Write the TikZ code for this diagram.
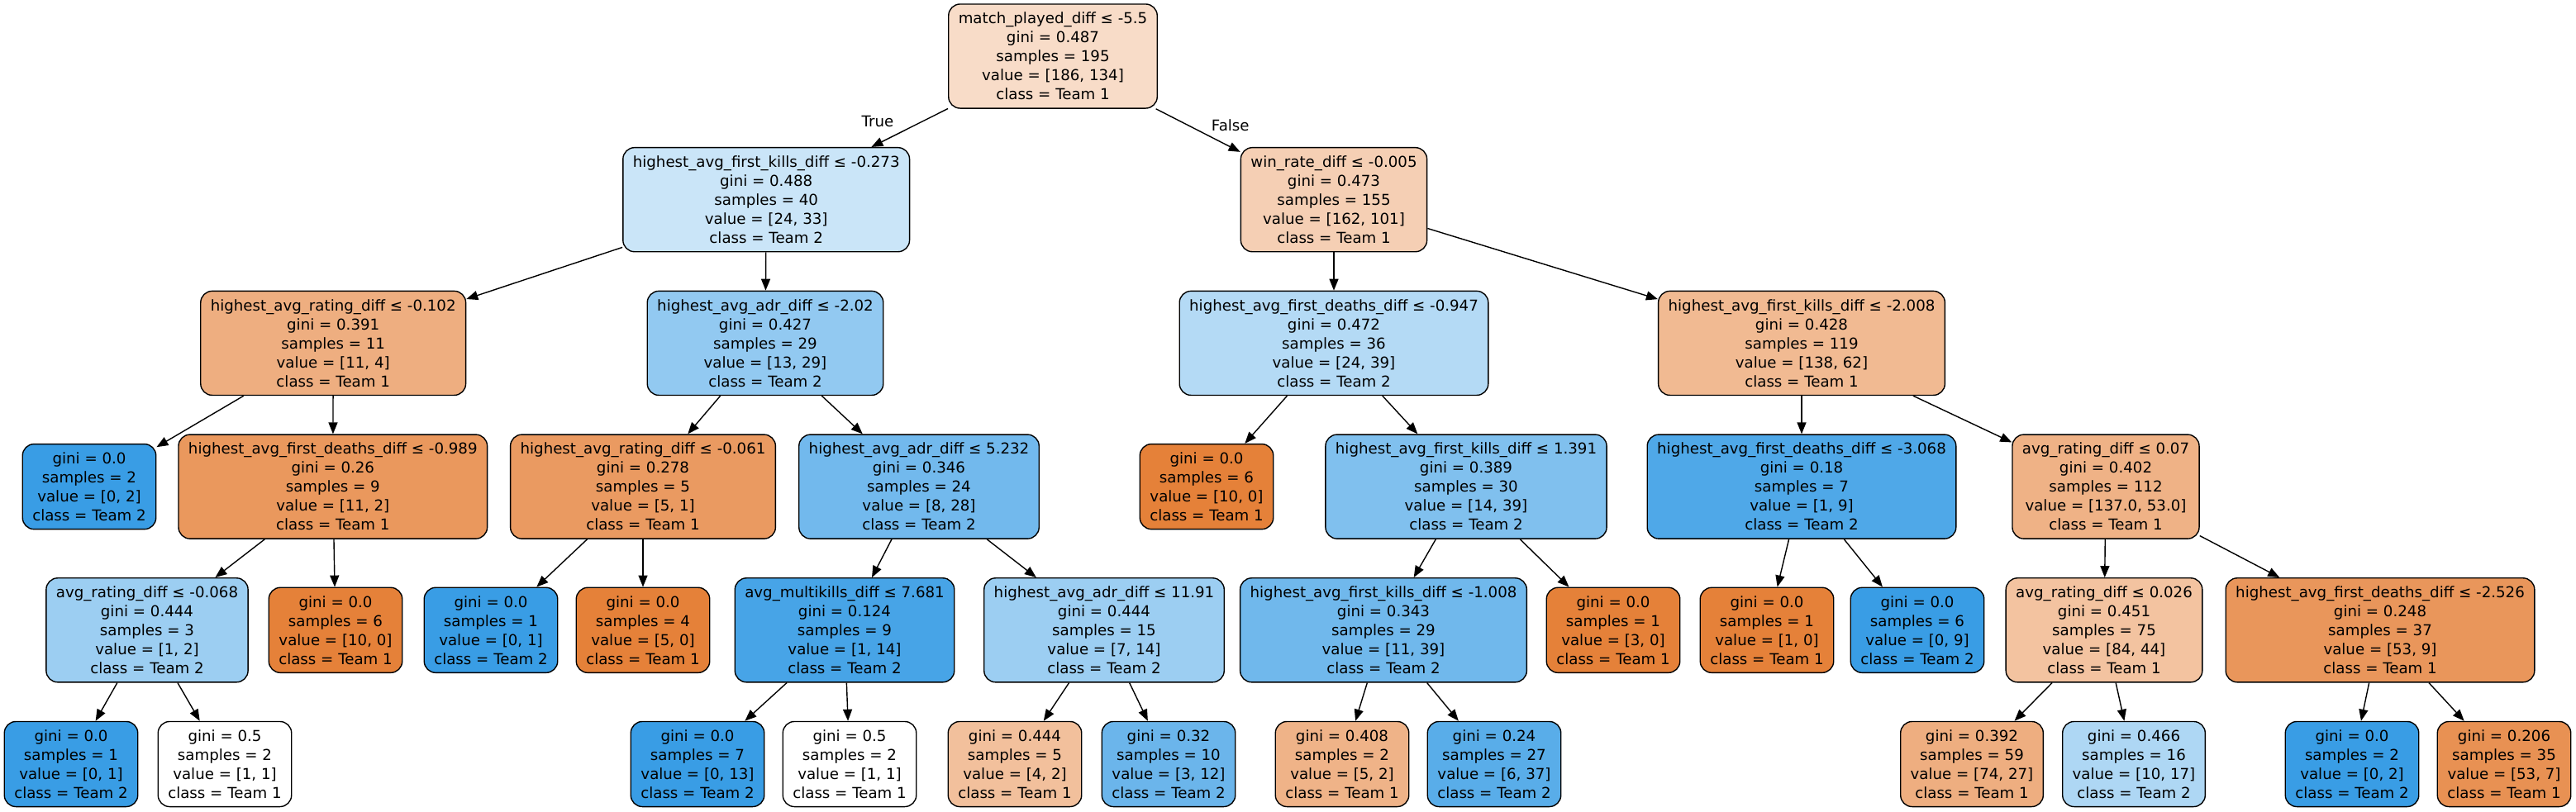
\documentclass[tikz,border=0pt]{standalone}
\usepackage{fontspec}
\setmainfont{DejaVu Sans}
\usepackage{xcolor}
\usetikzlibrary{arrows.meta}

\definecolor{naranja}{RGB}{229,129,57}
\definecolor{azul}{RGB}{57,157,229}

\begin{document}
\begin{tikzpicture}[x=1pt, y=1pt,
    caja/.style={draw=black, line width=0.7pt, rounded corners=7pt, align=center,
        inner xsep=6pt, inner ysep=5pt, font=\fontsize{9.1}{11.5}\selectfont},
    flecha/.style={-{Triangle[length=7pt,width=5.5pt]}, line width=0.7pt},
    etiqueta/.style={font=\fontsize{9.1}{11.5}\selectfont, inner sep=0pt}]

    \useasboundingbox (0,0) rectangle (1558.5,-491);

    % raiz
    \node[caja, fill=naranja!28] (r) at (637,-34) {match\_played\_diff ≤ -5.5\\gini = 0.487\\samples = 195\\value = [186, 134]\\class = Team 1};

    % nivel 1
    \node[caja, fill=azul!27] (a) at (463.6,-120.85) {highest\_avg\_first\_kills\_diff ≤ -0.273\\gini = 0.488\\samples = 40\\value = [24, 33]\\class = Team 2};
    \node[caja, fill=naranja!38] (b) at (807,-120.85) {win\_rate\_diff ≤ -0.005\\gini = 0.473\\samples = 155\\value = [162, 101]\\class = Team 1};

    % nivel 2
    \node[caja, fill=naranja!64] (aa) at (201.6,-207.7) {highest\_avg\_rating\_diff ≤ -0.102\\gini = 0.391\\samples = 11\\value = [11, 4]\\class = Team 1};
    \node[caja, fill=azul!55] (ab) at (463,-207.7) {highest\_avg\_adr\_diff ≤ -2.02\\gini = 0.427\\samples = 29\\value = [13, 29]\\class = Team 2};
    \node[caja, fill=azul!38] (ba) at (807,-207.7) {highest\_avg\_first\_deaths\_diff ≤ -0.947\\gini = 0.472\\samples = 36\\value = [24, 39]\\class = Team 2};
    \node[caja, fill=naranja!55] (bb) at (1090,-207.7) {highest\_avg\_first\_kills\_diff ≤ -2.008\\gini = 0.428\\samples = 119\\value = [138, 62]\\class = Team 1};

    % nivel 3
    \node[caja, fill=azul] (aaa) at (54,-294.55) {gini = 0.0\\samples = 2\\value = [0, 2]\\class = Team 2};
    \node[caja, fill=naranja!82] (aab) at (201.4,-294.55) {highest\_avg\_first\_deaths\_diff ≤ -0.989\\gini = 0.26\\samples = 9\\value = [11, 2]\\class = Team 1};
    \node[caja, fill=naranja!80] (aba) at (389,-294.55) {highest\_avg\_rating\_diff ≤ -0.061\\gini = 0.278\\samples = 5\\value = [5, 1]\\class = Team 1};
    \node[caja, fill=azul!71] (abb) at (556,-294.55) {highest\_avg\_adr\_diff ≤ 5.232\\gini = 0.346\\samples = 24\\value = [8, 28]\\class = Team 2};
    \node[caja, fill=naranja] (baa) at (730,-294.55) {gini = 0.0\\samples = 6\\value = [10, 0]\\class = Team 1};
    \node[caja, fill=azul!64] (bab) at (887,-294.55) {highest\_avg\_first\_kills\_diff ≤ 1.391\\gini = 0.389\\samples = 30\\value = [14, 39]\\class = Team 2};
    \node[caja, fill=azul!89] (bba) at (1090,-294.55) {highest\_avg\_first\_deaths\_diff ≤ -3.068\\gini = 0.18\\samples = 7\\value = [1, 9]\\class = Team 2};
    \node[caja, fill=naranja!61] (bbb) at (1274,-294.55) {avg\_rating\_diff ≤ 0.07\\gini = 0.402\\samples = 112\\value = [137.0, 53.0]\\class = Team 1};

    % nivel 4
    \node[caja, fill=azul!50] (aaba) at (89,-381.4) {avg\_rating\_diff ≤ -0.068\\gini = 0.444\\samples = 3\\value = [1, 2]\\class = Team 2};
    \node[caja, fill=naranja] (aabb) at (203,-381.4) {gini = 0.0\\samples = 6\\value = [10, 0]\\class = Team 1};
    \node[caja, fill=azul] (abaa) at (297,-381.4) {gini = 0.0\\samples = 1\\value = [0, 1]\\class = Team 2};
    \node[caja, fill=naranja] (abab) at (389,-381.4) {gini = 0.0\\samples = 4\\value = [5, 0]\\class = Team 1};
    \node[caja, fill=azul!93] (abba) at (511,-381.4) {avg\_multikills\_diff ≤ 7.681\\gini = 0.124\\samples = 9\\value = [1, 14]\\class = Team 2};
    \node[caja, fill=azul!50] (abbb) at (668,-381.4) {highest\_avg\_adr\_diff ≤ 11.91\\gini = 0.444\\samples = 15\\value = [7, 14]\\class = Team 2};
    \node[caja, fill=azul!72] (baba) at (837,-381.4) {highest\_avg\_first\_kills\_diff ≤ -1.008\\gini = 0.343\\samples = 29\\value = [11, 39]\\class = Team 2};
    \node[caja, fill=naranja] (babb) at (976,-381.4) {gini = 0.0\\samples = 1\\value = [3, 0]\\class = Team 1};
    \node[caja, fill=naranja] (bbaa) at (1069,-381.4) {gini = 0.0\\samples = 1\\value = [1, 0]\\class = Team 1};
    \node[caja, fill=azul] (bbab) at (1160,-381.4) {gini = 0.0\\samples = 6\\value = [0, 9]\\class = Team 2};
    \node[caja, fill=naranja!48] (bbba) at (1273,-381.4) {avg\_rating\_diff ≤ 0.026\\gini = 0.451\\samples = 75\\value = [84, 44]\\class = Team 1};
    \node[caja, fill=naranja!83] (bbbb) at (1440,-381.4) {highest\_avg\_first\_deaths\_diff ≤ -2.526\\gini = 0.248\\samples = 37\\value = [53, 9]\\class = Team 1};

    % nivel 5 (hojas)
    \node[caja, fill=azul] (aabaa) at (43,-462.5) {gini = 0.0\\samples = 1\\value = [0, 1]\\class = Team 2};
    \node[caja, fill=white] (aabab) at (136,-462.5) {gini = 0.5\\samples = 2\\value = [1, 1]\\class = Team 1};
    \node[caja, fill=azul] (abbaa) at (422,-462.5) {gini = 0.0\\samples = 7\\value = [0, 13]\\class = Team 2};
    \node[caja, fill=white] (abbab) at (514,-462.5) {gini = 0.5\\samples = 2\\value = [1, 1]\\class = Team 1};
    \node[caja, fill=naranja!50] (abbba) at (614,-462.5) {gini = 0.444\\samples = 5\\value = [4, 2]\\class = Team 1};
    \node[caja, fill=azul!75] (abbbb) at (707,-462.5) {gini = 0.32\\samples = 10\\value = [3, 12]\\class = Team 2};
    \node[caja, fill=naranja!60] (babaa) at (812,-462.5) {gini = 0.408\\samples = 2\\value = [5, 2]\\class = Team 1};
    \node[caja, fill=azul!84] (babab) at (904,-462.5) {gini = 0.24\\samples = 27\\value = [6, 37]\\class = Team 2};
    \node[caja, fill=naranja!64] (bbbaa) at (1193,-462.5) {gini = 0.392\\samples = 59\\value = [74, 27]\\class = Team 1};
    \node[caja, fill=azul!41] (bbbab) at (1291,-462.5) {gini = 0.466\\samples = 16\\value = [10, 17]\\class = Team 2};
    \node[caja, fill=azul] (bbbba) at (1423,-462.5) {gini = 0.0\\samples = 2\\value = [0, 2]\\class = Team 2};
    \node[caja, fill=naranja!87] (bbbbb) at (1515,-462.5) {gini = 0.206\\samples = 35\\value = [53, 7]\\class = Team 1};

    % aristas
    \draw[flecha] (r) -- (a);
    \draw[flecha] (r) -- (b);

    \draw[flecha] (a) -- (aa);
    \draw[flecha] (a) -- (ab);
    \draw[flecha] (b) -- (ba);
    \draw[flecha] (b) -- (bb);

    \draw[flecha] (aa) -- (aaa);
    \draw[flecha] (aa) -- (aab);
    \draw[flecha] (ab) -- (aba);
    \draw[flecha] (ab) -- (abb);
    \draw[flecha] (ba) -- (baa);
    \draw[flecha] (ba) -- (bab);
    \draw[flecha] (bb) -- (bba);
    \draw[flecha] (bb) -- (bbb);

    \draw[flecha] (aab) -- (aaba);
    \draw[flecha] (aab) -- (aabb);
    \draw[flecha] (aba) -- (abaa);
    \draw[flecha] (aba) -- (abab);
    \draw[flecha] (abb) -- (abba);
    \draw[flecha] (abb) -- (abbb);
    \draw[flecha] (bab) -- (baba);
    \draw[flecha] (bab) -- (babb);
    \draw[flecha] (bba) -- (bbaa);
    \draw[flecha] (bba) -- (bbab);
    \draw[flecha] (bbb) -- (bbba);
    \draw[flecha] (bbb) -- (bbbb);

    \draw[flecha] (aaba) -- (aabaa);
    \draw[flecha] (aaba) -- (aabab);
    \draw[flecha] (abba) -- (abbaa);
    \draw[flecha] (abba) -- (abbab);
    \draw[flecha] (abbb) -- (abbba);
    \draw[flecha] (abbb) -- (abbbb);
    \draw[flecha] (baba) -- (babaa);
    \draw[flecha] (baba) -- (babab);
    \draw[flecha] (bbba) -- (bbbaa);
    \draw[flecha] (bbba) -- (bbbab);
    \draw[flecha] (bbbb) -- (bbbba);
    \draw[flecha] (bbbb) -- (bbbbb);

    % leyendas de la raiz
    \node[etiqueta] (verdad) at (531,-73.3) {True};
    \node[etiqueta] (falso) at (744.4,-75.8) {False};

\end{tikzpicture}
\end{document}
